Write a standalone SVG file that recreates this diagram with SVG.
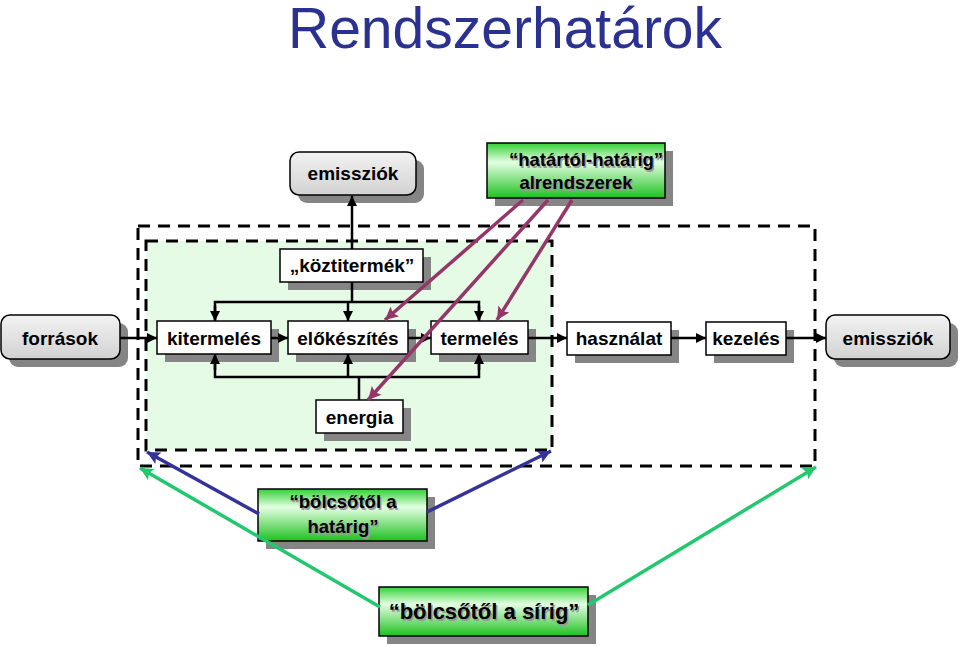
<svg xmlns="http://www.w3.org/2000/svg" width="960" height="646" viewBox="0 0 960 646">
  <defs>
    <linearGradient id="gGray" x1="0" y1="0" x2="0" y2="1">
      <stop offset="0" stop-color="#F2F2F2"/>
      <stop offset="1" stop-color="#D2D2D2"/>
    </linearGradient>
    <linearGradient id="gGreen" x1="0" y1="0" x2="0" y2="1">
      <stop offset="0" stop-color="#33D033"/>
      <stop offset="0.35" stop-color="#E4FFE4"/>
      <stop offset="1" stop-color="#1FC01F"/>
    </linearGradient>
    <marker id="aBlack" viewBox="0 0 10 10" refX="10" refY="5" markerWidth="10" markerHeight="10" markerUnits="userSpaceOnUse" orient="auto">
      <path d="M0,0 L10,5 L0,10 z" fill="#000"/>
    </marker>
    <marker id="aPurple" viewBox="0 0 10 10" refX="10" refY="5" markerWidth="15" markerHeight="13" markerUnits="userSpaceOnUse" orient="auto">
      <path d="M0,0 L10,5 L0,10 L2,5 z" fill="#943668"/>
    </marker>
    <marker id="aBlue" viewBox="0 0 10 10" refX="10" refY="5" markerWidth="15" markerHeight="13" markerUnits="userSpaceOnUse" orient="auto">
      <path d="M0,0 L10,5 L0,10 L2,5 z" fill="#333399"/>
    </marker>
    <marker id="aGreen" viewBox="0 0 10 10" refX="10" refY="5" markerWidth="15" markerHeight="13" markerUnits="userSpaceOnUse" orient="auto">
      <path d="M0,0 L10,5 L0,10 L2,5 z" fill="#22C86E"/>
    </marker>
  </defs>
  <style>
    text { font-family: "Liberation Sans", Arial, sans-serif; font-weight: bold; fill: #000; text-anchor: middle; }
    .lbl { font-size: 19px; }
    .title { font-family: "Liberation Sans", Arial, sans-serif; font-weight: normal; font-size: 57px; fill: #2B3190; text-anchor: start; }
    .ts { fill: #9A9A9A; }
    .box { fill: #fff; stroke: #000; stroke-width: 1.5; }
    .gray { fill: url(#gGray); stroke: #000; stroke-width: 1.5; }
    .green { fill: url(#gGreen); stroke: #000; stroke-width: 1.5; }
    .shadow { fill: #858585; }
    .dash { fill: none; stroke: #000; stroke-width: 3; stroke-dasharray: 12 8; }
    .blk { fill: none; stroke: #000; stroke-width: 2.5; }
    .pur { fill: none; stroke: #943668; stroke-width: 3.5; }
    .blu { fill: none; stroke: #333399; stroke-width: 3.5; }
    .grn { fill: none; stroke: #22C86E; stroke-width: 3.5; }
  </style>

  <text class="title" x="288" y="48">Rendszerhatárok</text>

  <g id="boundary-outer">
    <rect class="dash" x="138" y="226" width="677" height="240"/>
  </g>
  <g id="boundary-inner">
    <rect x="146" y="241" width="406" height="209" fill="#E6FBE6"/>
    <rect class="dash" x="146" y="241" width="406" height="209"/>
  </g>

  <g id="emissziok-top">
    <rect class="shadow" x="298" y="160" width="126" height="43" rx="9"/>
    <rect class="gray" x="290" y="152" width="126" height="43" rx="9"/>
    <text class="lbl" x="353" y="180">emissziók</text>
  </g>
  <g id="hatartol-hatarig">
    <rect class="shadow" x="495" y="151" width="178" height="55"/>
    <rect class="green" x="487" y="143" width="178" height="55"/>
    <text class="ts" x="587.5" y="167.5" style="font-size:18.5px">“határtól-határig”</text>
    <text class="ts" x="577.5" y="190.5" style="font-size:18.5px">alrendszerek</text>
    <text x="586" y="166" style="font-size:18.5px">“határtól-határig”</text>
    <text x="576" y="189" style="font-size:18.5px">alrendszerek</text>
  </g>
  <g id="koztitermek">
    <rect class="shadow" x="288" y="257" width="143" height="33"/>
    <rect class="box" x="280" y="249" width="143" height="33"/>
    <text class="lbl" x="352" y="272">„köztitermék”</text>
  </g>
  <g id="forrasok">
    <rect class="shadow" x="9" y="323" width="119" height="44" rx="9"/>
    <rect class="gray" x="1" y="315" width="119" height="44" rx="9"/>
    <text class="lbl" x="60" y="345">források</text>
  </g>
  <g id="kitermeles">
    <rect class="shadow" x="165" y="329" width="114" height="33"/>
    <rect class="box" x="157" y="321" width="114" height="33"/>
    <text class="lbl" x="214" y="344.5">kitermelés</text>
  </g>
  <g id="elokeszites">
    <rect class="shadow" x="296" y="329" width="120" height="33"/>
    <rect class="box" x="288" y="321" width="120" height="33"/>
    <text class="lbl" x="348" y="344.5">előkészítés</text>
  </g>
  <g id="termeles">
    <rect class="shadow" x="439" y="329" width="97" height="33"/>
    <rect class="box" x="431" y="321" width="97" height="33"/>
    <text class="lbl" x="479.5" y="344.5">termelés</text>
  </g>
  <g id="hasznalat">
    <rect class="shadow" x="575" y="330" width="104" height="33"/>
    <rect class="box" x="567" y="322" width="104" height="33"/>
    <text class="lbl" x="619" y="345">használat</text>
  </g>
  <g id="kezeles">
    <rect class="shadow" x="714" y="330" width="80" height="33"/>
    <rect class="box" x="706" y="322" width="80" height="33"/>
    <text class="lbl" x="746" y="345">kezelés</text>
  </g>
  <g id="emissziok-right">
    <rect class="shadow" x="834" y="323" width="124" height="44" rx="9"/>
    <rect class="gray" x="826" y="315" width="124" height="44" rx="9"/>
    <text class="lbl" x="888" y="345">emissziók</text>
  </g>
  <g id="energia">
    <rect class="shadow" x="324" y="408" width="87" height="33"/>
    <rect class="box" x="316" y="400" width="87" height="33"/>
    <text class="lbl" x="359.5" y="423.5">energia</text>
  </g>
  <g id="bolcsotol-hatarig">
    <rect class="shadow" x="266" y="497" width="169" height="52"/>
    <rect class="green" x="258" y="489" width="169" height="52"/>
    <text class="ts" x="344.5" y="509.5" style="font-size:18.5px">“bölcsőtől a</text>
    <text class="ts" x="344.5" y="534.5" style="font-size:18.5px">határig”</text>
    <text x="343" y="508" style="font-size:18.5px">“bölcsőtől a</text>
    <text x="343" y="533" style="font-size:18.5px">határig”</text>
  </g>
  <g id="bolcsotol-sirig">
    <rect class="shadow" x="387" y="595" width="209" height="49"/>
    <rect class="green" x="379" y="587" width="209" height="49"/>
    <text class="ts" x="485.5" y="620.5" style="font-size:22px">“bölcsőtől a sírig”</text>
    <text x="484" y="619" style="font-size:22px">“bölcsőtől a sírig”</text>
  </g>

  <g id="connectors">
    <line class="blk" x1="352" y1="249" x2="352" y2="196" marker-end="url(#aBlack)"/>
    <line class="blk" x1="352" y1="282" x2="352" y2="302"/>
    <polyline class="blk" points="215,320 215,302 479,302 479,320"/>
    <line class="blk" x1="215" y1="306" x2="215" y2="321" marker-end="url(#aBlack)"/>
    <line class="blk" x1="348" y1="302" x2="348" y2="321" marker-end="url(#aBlack)"/>
    <line class="blk" x1="479" y1="306" x2="479" y2="321" marker-end="url(#aBlack)"/>
    <line class="blk" x1="359" y1="400" x2="359" y2="377"/>
    <polyline class="blk" points="215,356 215,377 479,377 479,356"/>
    <line class="blk" x1="215" y1="370" x2="215" y2="354" marker-end="url(#aBlack)"/>
    <line class="blk" x1="348" y1="377" x2="348" y2="354" marker-end="url(#aBlack)"/>
    <line class="blk" x1="479" y1="370" x2="479" y2="354" marker-end="url(#aBlack)"/>
    <line class="blk" x1="120" y1="338" x2="157" y2="338" marker-end="url(#aBlack)"/>
    <line class="blk" x1="271" y1="338" x2="288" y2="338" marker-end="url(#aBlack)"/>
    <line class="blk" x1="408" y1="338" x2="431" y2="338" marker-end="url(#aBlack)"/>
    <line class="blk" x1="528" y1="338" x2="567" y2="338" marker-end="url(#aBlack)"/>
    <line class="blk" x1="671" y1="338" x2="706" y2="338" marker-end="url(#aBlack)"/>
    <line class="blk" x1="786" y1="338" x2="826" y2="338" marker-end="url(#aBlack)"/>
    <line class="pur" x1="523" y1="200" x2="385" y2="320" marker-end="url(#aPurple)"/>
    <line class="pur" x1="548" y1="200" x2="368" y2="400" marker-end="url(#aPurple)"/>
    <line class="pur" x1="572" y1="200" x2="497" y2="320" marker-end="url(#aPurple)"/>
    <line class="blu" x1="259" y1="514" x2="147" y2="452" marker-end="url(#aBlue)"/>
    <line class="blu" x1="427" y1="512" x2="551" y2="451" marker-end="url(#aBlue)"/>
    <line class="grn" x1="380" y1="607" x2="140" y2="468" marker-end="url(#aGreen)"/>
    <line class="grn" x1="588" y1="605" x2="816" y2="467" marker-end="url(#aGreen)"/>
  </g>
</svg>
